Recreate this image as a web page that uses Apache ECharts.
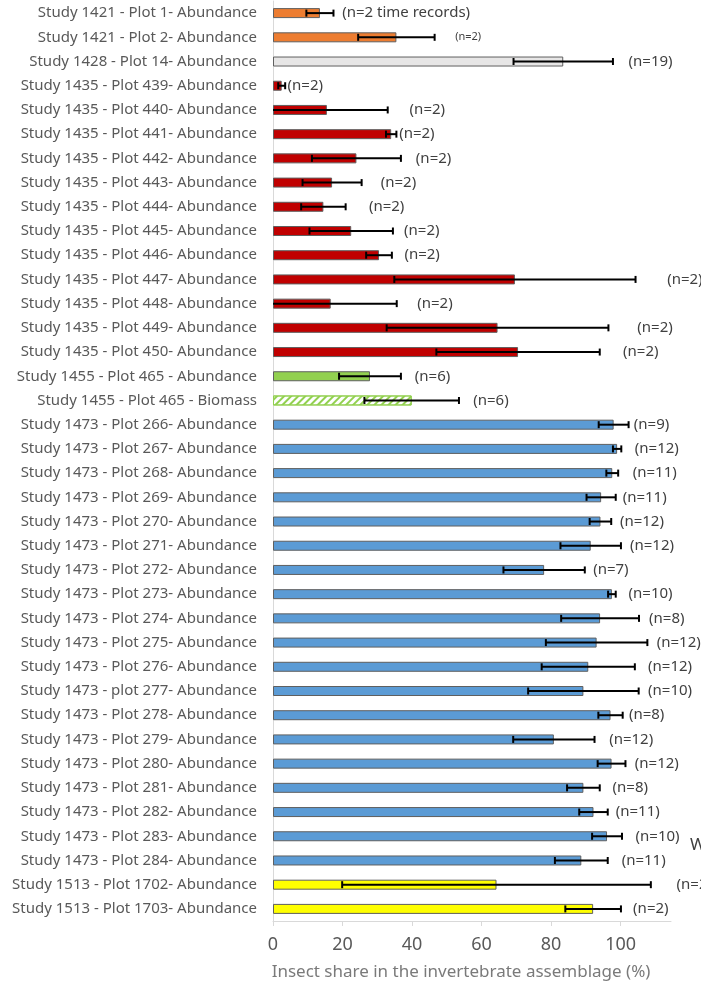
<!DOCTYPE html>
<html>
<head>
<meta charset="utf-8">
<title>Insect share in the invertebrate assemblage</title>
<script src="https://cdn.jsdelivr.net/npm/echarts@6/dist/echarts.min.js"></script>
<style>
  html, body { margin: 0; padding: 0; background: #ffffff; }
  #chart { width: 701px; height: 986px; }
</style>
</head>
<body>
<div id="chart"></div>
<script>
// Plot records, top to bottom
const categories = [
  'Study 1421 - Plot 1- Abundance',
  'Study 1421 - Plot 2- Abundance',
  'Study 1428 - Plot 14- Abundance',
  'Study 1435 - Plot 439- Abundance',
  'Study 1435 - Plot 440- Abundance',
  'Study 1435 - Plot 441- Abundance',
  'Study 1435 - Plot 442- Abundance',
  'Study 1435 - Plot 443- Abundance',
  'Study 1435 - Plot 444- Abundance',
  'Study 1435 - Plot 445- Abundance',
  'Study 1435 - Plot 446- Abundance',
  'Study 1435 - Plot 447- Abundance',
  'Study 1435 - Plot 448- Abundance',
  'Study 1435 - Plot 449- Abundance',
  'Study 1435 - Plot 450- Abundance',
  'Study 1455 - Plot 465 - Abundance',
  'Study 1455 - Plot 465 - Biomass',
  'Study 1473 - Plot 266- Abundance',
  'Study 1473 - Plot 267- Abundance',
  'Study 1473 - Plot 268- Abundance',
  'Study 1473 - Plot 269- Abundance',
  'Study 1473 - Plot 270- Abundance',
  'Study 1473 - Plot 271- Abundance',
  'Study 1473 - Plot 272- Abundance',
  'Study 1473 - Plot 273- Abundance',
  'Study 1473 - Plot 274- Abundance',
  'Study 1473 - Plot 275- Abundance',
  'Study 1473 - Plot 276- Abundance',
  'Study 1473 - plot 277- Abundance',
  'Study 1473 - Plot 278- Abundance',
  'Study 1473 - Plot 279- Abundance',
  'Study 1473 - Plot 280- Abundance',
  'Study 1473 - Plot 281- Abundance',
  'Study 1473 - Plot 282- Abundance',
  'Study 1473 - Plot 283- Abundance',
  'Study 1473 - Plot 284- Abundance',
  'Study 1513 - Plot 1702- Abundance',
  'Study 1513 - Plot 1703- Abundance'
];

// Mean insect share (%)
const shares = [
  13.5, 35.5, 83.5,
  2.5, 15.5, 34.0, 24.0, 17.0, 14.5, 22.5, 30.5, 69.6, 16.6, 64.6, 70.5,
  27.9, 39.9,
  98.0, 99.0, 97.6, 94.4, 94.2, 91.4, 78.0, 97.5, 94.1, 93.1, 90.7, 89.3,
  97.1, 80.8, 97.4, 89.3, 92.2, 96.1, 88.7,
  64.3, 92.1
];

// Error bar half-widths (%)
const errors = [
  3.9, 11.0, 14.3,
  1.0, 17.5, 1.5, 12.8, 8.5, 6.4, 12.0, 3.7, 34.7, 19.0, 31.9, 23.5,
  8.9, 13.6,
  4.3, 1.2, 1.7, 4.2, 3.1, 8.7, 11.7, 1.1, 11.2, 14.6, 13.4, 15.9,
  3.5, 11.7, 4.0, 4.7, 4.1, 4.3, 7.6,
  44.4, 8.0
];

// Sample size notes
const nLabels = [
  '(n=2 time records)', '(n=2)', '(n=19)',
  '(n=2)', '(n=2)', '(n=2)', '(n=2)', '(n=2)', '(n=2)', '(n=2)', '(n=2)', '(n=2)', '(n=2)', '(n=2)', '(n=2)',
  '(n=6)', '(n=6)',
  '(n=9)', '(n=12)', '(n=11)', '(n=11)', '(n=12)', '(n=12)', '(n=7)', '(n=10)', '(n=8)', '(n=12)', '(n=12)', '(n=10)',
  '(n=8)', '(n=12)', '(n=12)', '(n=8)', '(n=11)', '(n=10)', '(n=11)',
  '(n=2)', '(n=2)'
];

// Where each note starts, in axis units
const nLabelAt = [
  19.9, 52.4, 102.3,
  4.2, 39.3, 36.3, 41.1, 31.0, 27.6, 37.7, 37.8, 113.4, 41.5, 104.8, 100.7,
  40.8, 57.6,
  103.8, 104.1, 103.5, 100.6, 99.8, 102.7, 92.1, 102.3, 108.2, 110.4, 107.9, 107.9,
  102.4, 96.7, 104.1, 97.7, 98.6, 104.3, 100.3,
  116.1, 103.6
];

const xTicks = [0, 20, 40, 60, 80, 100];

// Fill colour per study
const studyColors = {
  '1421': '#ED7D31',
  '1428': '#E7E6E6',
  '1435': '#C00000',
  '1455': '#92D050',
  '1473': '#5B9BD5',
  '1513': '#FFFF00'
};

function barStyle(name) {
  const study = name.match(/Study (\d+)/)[1];
  const color = studyColors[study];
  if (/Biomass/.test(name)) {
    return {
      color: '#ffffff',
      borderColor: color,
      borderWidth: 1,
      decal: {
        symbol: 'rect',
        symbolSize: 1,
        color: color,
        dashArrayX: [1, 0],
        dashArrayY: [2, 3],
        rotation: -Math.PI / 4
      }
    };
  }
  return { color: color, borderColor: '#5f5f5f', borderWidth: 1 };
}

const barData = shares.map((v, i) => ({ value: v, itemStyle: barStyle(categories[i]) }));
const errData = shares.map((v, i) => [v, i, errors[i]]);
const noteData = nLabels.map((t, i) => [nLabelAt[i], i, t]);

const chart = echarts.init(document.getElementById('chart'), null, { renderer: 'canvas' });

chart.setOption({
  animation: false,
  backgroundColor: '#ffffff',
  textStyle: { fontFamily: 'Noto Sans' },
  grid: { left: 273, right: 30, top: 1, bottom: 59, containLabel: false },
  xAxis: {
    type: 'value',
    min: 0,
    max: 114.5,
    interval: 20,
    splitLine: { show: false },
    axisLine: { show: true, lineStyle: { color: '#D9D9D9', width: 1 } },
    axisTick: { show: true, length: 5, lineStyle: { color: '#D9D9D9' } },
    axisLabel: {
      color: '#595959',
      fontSize: 18,
      margin: 15,
      showMaxLabel: false,
      formatter: v => (xTicks.indexOf(v) >= 0 ? String(v) : '')
    },
    name: 'Insect share in the invertebrate assemblage (%)',
    nameLocation: 'middle',
    nameGap: 43,
    nameTextStyle: { color: '#7a7a7a', fontSize: 17, padding: [0, 22, 0, 0] }
  },
  yAxis: {
    type: 'category',
    data: categories,
    inverse: true,
    axisLine: { show: true, lineStyle: { color: '#D9D9D9', width: 1 } },
    axisTick: { show: false },
    axisLabel: { color: '#595959', fontSize: 15, margin: 16, interval: 0 }
  },
  series: [
    {
      type: 'bar',
      data: barData,
      barWidth: 10,
      z: 2
    },
    {
      type: 'custom',
      z: 3,
      clip: true,
      encode: { x: 0, y: 1 },
      data: errData,
      renderItem: function (params, api) {
        const v = api.value(0), i = api.value(1), e = api.value(2);
        const lo = api.coord([v - e, i]);
        const hi = api.coord([v + e, i]);
        const cap = 3.5;
        const style = { stroke: '#000000', lineWidth: 2 };
        return {
          type: 'group',
          children: [
            { type: 'line', shape: { x1: lo[0], y1: lo[1], x2: hi[0], y2: hi[1] }, style: style },
            { type: 'line', shape: { x1: lo[0], y1: lo[1] - cap, x2: lo[0], y2: lo[1] + cap }, style: style },
            { type: 'line', shape: { x1: hi[0], y1: hi[1] - cap, x2: hi[0], y2: hi[1] + cap }, style: style }
          ]
        };
      }
    },
    {
      type: 'custom',
      z: 4,
      clip: false,
      encode: { x: 0, y: 1 },
      data: noteData,
      renderItem: function (params, api) {
        const i = api.value(1);
        const p = api.coord([api.value(0), i]);
        const small = params.dataIndex === 1;
        return {
          type: 'text',
          x: p[0],
          y: p[1],
          style: {
            text: nLabels[params.dataIndex],
            fill: '#404040',
            font: (small ? 11 : 15) + 'px "Noto Sans"',
            align: 'left',
            verticalAlign: 'middle'
          }
        };
      }
    }
  ],
  graphic: [
    {
      type: 'text',
      left: 690,
      top: 837,
      style: { text: 'W', fill: '#404040', font: '17px "Noto Sans"' }
    }
  ]
});
</script>
</body>
</html>
